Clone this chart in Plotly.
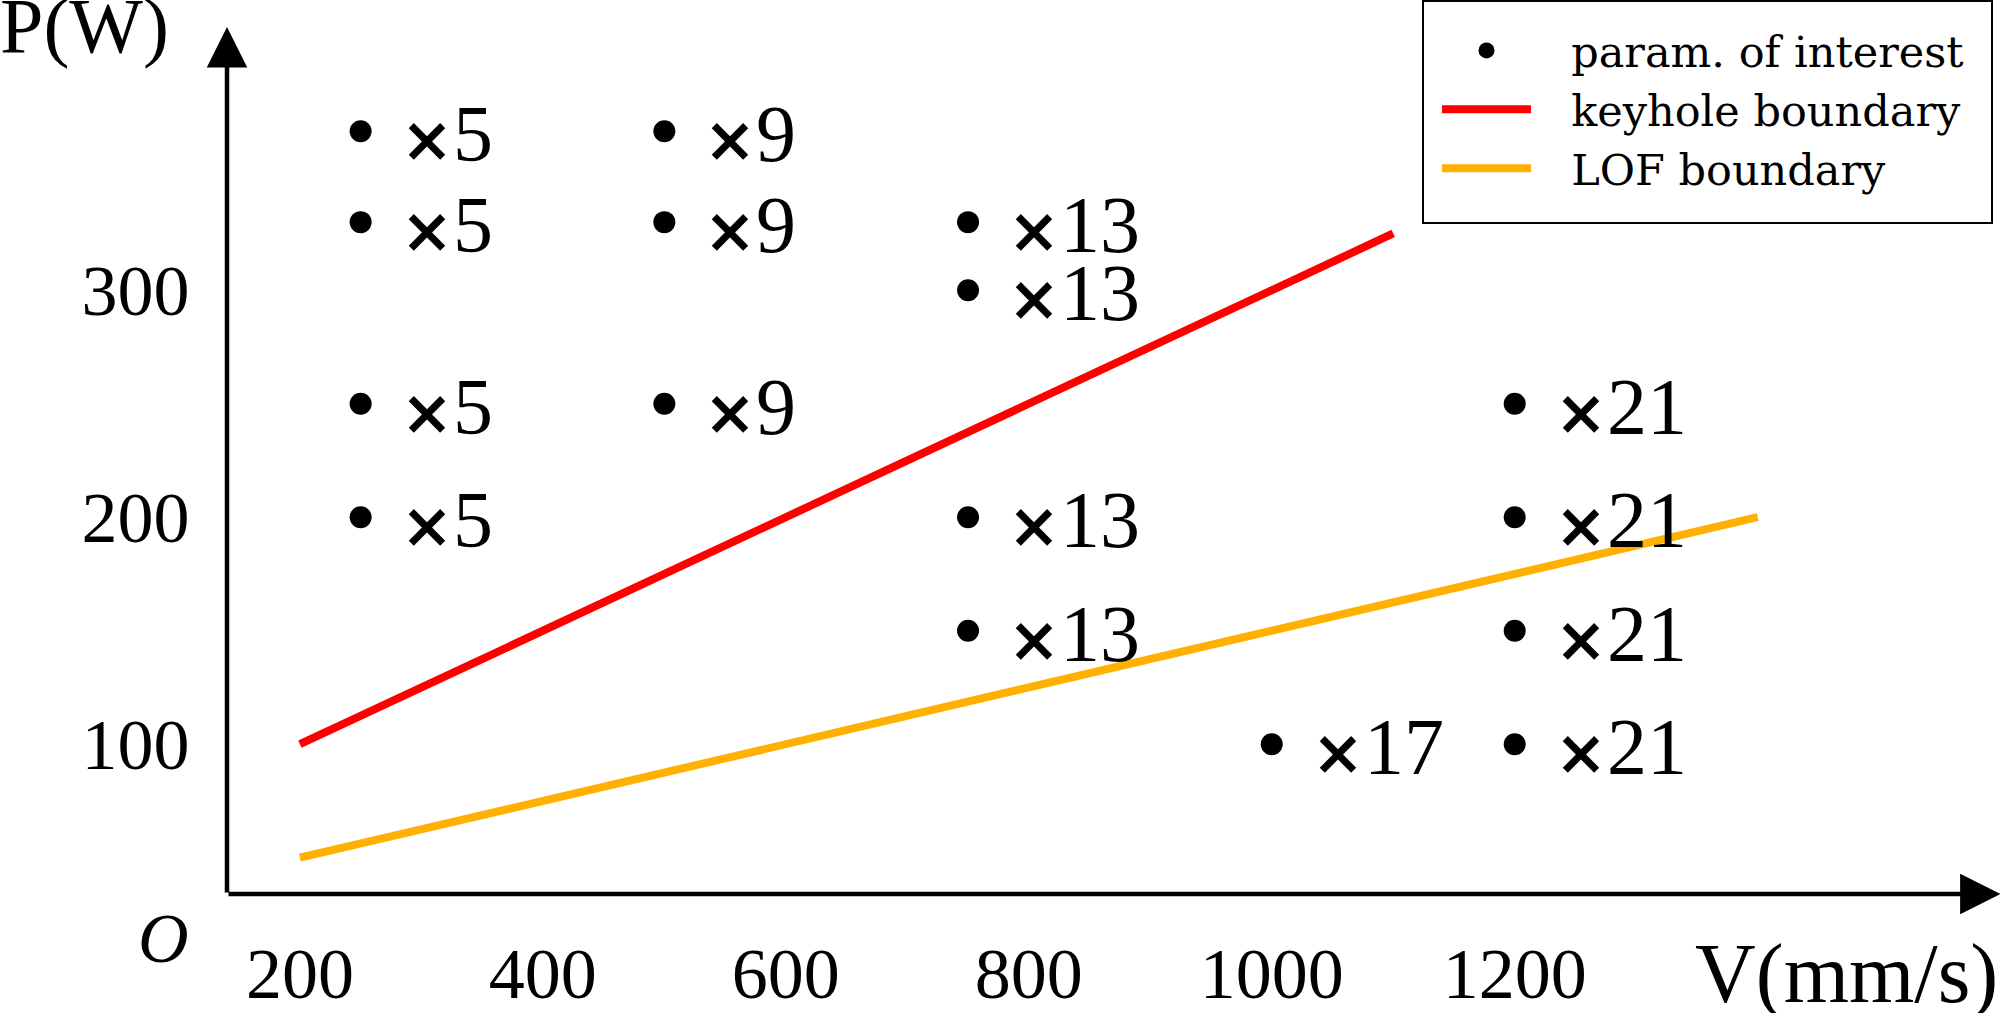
import plotly.graph_objects as go

# ---- data ----
speed_250 = [250, 250, 250, 250]
power_250 = [370, 330, 250, 200]
speed_500 = [500, 500, 500]
power_500 = [370, 330, 250]
speed_750 = [750, 750, 750, 750]
power_750 = [330, 300, 200, 150]
speed_1000 = [1000]
power_1000 = [100]
speed_1200 = [1200, 1200, 1200, 1200]
power_1200 = [250, 200, 150, 100]
repeat_counts = ["5", "9", "13", "17", "21"]

keyhole_v = [200, 1100]
keyhole_p = [100, 325]
lof_v = [200, 1400]
lof_p = [50, 200]

x_ticks = [200, 400, 600, 800, 1000, 1200]
y_ticks = [100, 200, 300]

x_axis_range = [140, 1597]
y_axis_range = [34, 412]

SERIF = "Liberation Serif"
TIMES_SIGN = ('<span style="font-family:\'DejaVu Sans\';font-weight:bold;'
              'font-size:62px">×</span>')
LEGEND_PAD = "\u2002\u00a0"

groups = [
    (speed_250, power_250, repeat_counts[0]),
    (speed_500, power_500, repeat_counts[1]),
    (speed_750, power_750, repeat_counts[2]),
    (speed_1000, power_1000, repeat_counts[3]),
    (speed_1200, power_1200, repeat_counts[4]),
]
all_v = [v for g in groups for v in g[0]]
all_p = [p for g in groups for p in g[1]]

fig = go.Figure()
fig.add_trace(go.Scatter(
    x=all_v, y=all_p, mode="markers", name=LEGEND_PAD + "param. of interest",
    marker=dict(color="black", size=22), cliponaxis=False,
))
fig.add_trace(go.Scatter(
    x=keyhole_v, y=keyhole_p, mode="lines", name=LEGEND_PAD + "keyhole boundary",
    line=dict(color="#FF0000", width=8), cliponaxis=False,
))
fig.add_trace(go.Scatter(
    x=lof_v, y=lof_p, mode="lines", name=LEGEND_PAD + "LOF boundary",
    line=dict(color="#FFB000", width=8), cliponaxis=False,
))

annotations = []
for vs, ps, lab in groups:
    for v, p in zip(vs, ps):
        annotations.append(dict(
            x=v, y=p, xref="x", yref="y", text=TIMES_SIGN + lab, showarrow=False,
            xanchor="left", yanchor="middle", xshift=38, yshift=-3,
            font=dict(family=SERIF, size=80, color="black"),
        ))

# axis arrows (tips pushed slightly past the range ends)
annotations.append(dict(
    x=x_axis_range[1] + 3, y=y_axis_range[0], ax=x_axis_range[0], ay=y_axis_range[0],
    xref="x", yref="y", axref="x", ayref="y", text="", showarrow=True,
    arrowhead=2, arrowsize=1.8, arrowwidth=4.5, arrowcolor="black",
))
annotations.append(dict(
    x=x_axis_range[0], y=y_axis_range[1] + 4, ax=x_axis_range[0], ay=y_axis_range[0],
    xref="x", yref="y", axref="x", ayref="y", text="", showarrow=True,
    arrowhead=2, arrowsize=1.8, arrowwidth=4.5, arrowcolor="black",
))
# axis titles
annotations.append(dict(
    x=0, y=1.0, xref="paper", yref="paper", text="P(W)", showarrow=False,
    xanchor="left", yanchor="middle", xshift=-229, yshift=11,
    font=dict(family=SERIF, size=78, color="black"),
))
annotations.append(dict(
    x=1.0, y=0, xref="paper", yref="paper", text="V(mm/s)", showarrow=False,
    xanchor="right", yanchor="middle", yshift=-80, xshift=3,
    font=dict(family=SERIF, size=84, color="black"),
))
annotations.append(dict(
    x=0, y=0, xref="paper", yref="paper", text="<i>O</i>", showarrow=False,
    xanchor="center", yanchor="middle", xshift=-64, yshift=-44,
    font=dict(family=SERIF, size=70, color="black"),
))

# legend frame (pixel box of the reference legend)
FIG_W, FIG_H = 2000, 1013
M_L, M_R, M_T, M_B = 227, 3, 36, 119
PLOT_W, PLOT_H = FIG_W - M_L - M_R, FIG_H - M_T - M_B
box_px = dict(left=1423, right=1992, top=1, bottom=223)

fig.update_layout(
    width=FIG_W, height=FIG_H,
    margin=dict(l=M_L, r=M_R, t=M_T, b=M_B, autoexpand=False),
    paper_bgcolor="white", plot_bgcolor="white",
    showlegend=True,
    shapes=[dict(
        type="rect", xref="paper", yref="paper",
        x0=(box_px["left"] - M_L) / PLOT_W,
        x1=(box_px["right"] - M_L) / PLOT_W,
        y0=(FIG_H - box_px["bottom"] - M_B) / PLOT_H,
        y1=(FIG_H - box_px["top"] - M_B) / PLOT_H,
        line=dict(color="black", width=2), fillcolor="white", layer="above",
    )],
    legend=dict(
        x=1437 / FIG_W, y=1 - 16 / FIG_H, xref="container", yref="container",
        xanchor="left", yanchor="top",
        borderwidth=0, bgcolor="rgba(0,0,0,0)",
        font=dict(family="DejaVu Serif", size=43, color="black"),
        itemwidth=89, tracegroupgap=0,
    ),
    xaxis=dict(
        range=x_axis_range, showgrid=False, zeroline=False, showline=False,
        tickmode="array", tickvals=x_ticks, ticktext=[str(t) for t in x_ticks],
        ticks="outside", ticklen=17, tickcolor="rgba(0,0,0,0)",
        tickfont=dict(family=SERIF, size=72, color="black"),
    ),
    yaxis=dict(
        range=y_axis_range, showgrid=False, zeroline=False, showline=False,
        tickmode="array", tickvals=y_ticks, ticktext=[str(t) for t in y_ticks],
        ticks="outside", ticklen=22, tickcolor="rgba(0,0,0,0)",
        tickfont=dict(family=SERIF, size=72, color="black"),
    ),
    annotations=annotations,
)

fig.write_html(
    "out.html",
    config={"displayModeBar": False},
    post_script="document.body.style.margin='0';",
)
